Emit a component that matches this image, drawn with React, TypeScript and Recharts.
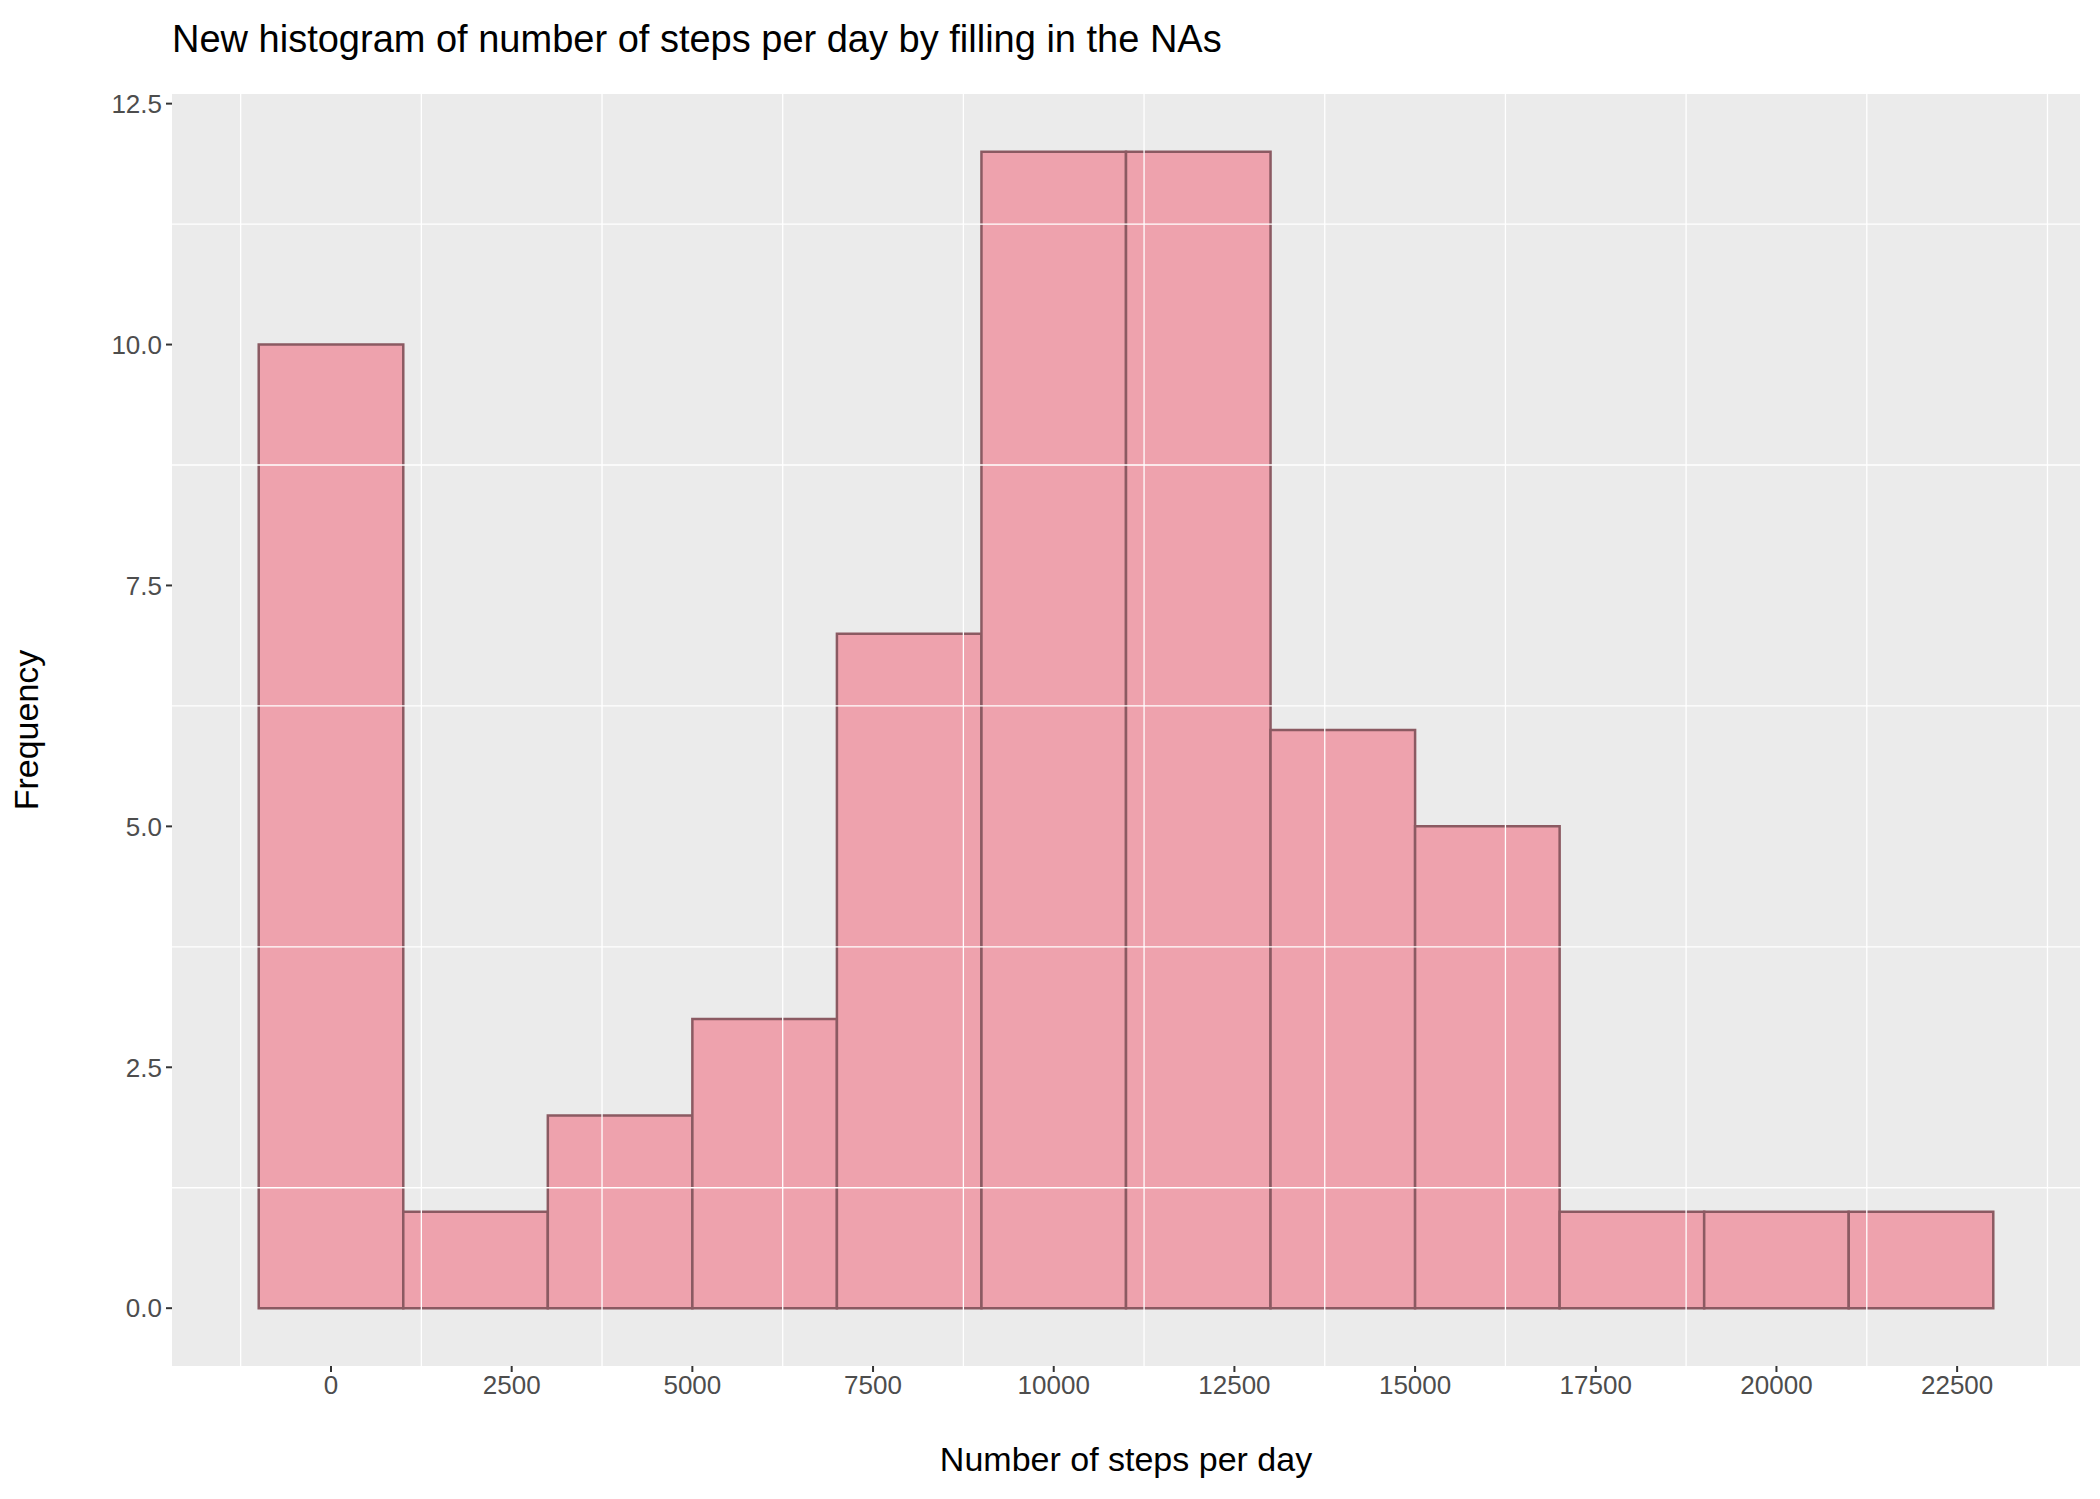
import React from "react";
import { ComposedChart, XAxis, YAxis, CartesianGrid, ReferenceArea, ReferenceLine, Label } from "recharts";

const binStarts = [-1000, 1000, 3000, 5000, 7000, 9000, 11000, 13000, 15000, 17000, 19000, 21000];
const binWidth = 2000;
const counts = [10, 1, 2, 3, 7, 12, 12, 6, 5, 1, 1, 1];
const xTicks = [0, 2500, 5000, 7500, 10000, 12500, 15000, 17500, 20000, 22500];
const xMinor = [-1250, 1250, 3750, 6250, 8750, 11250, 13750, 16250, 18750, 21250, 23750];
const yTicks = [0, 2.5, 5, 7.5, 10, 12.5];
const yMinor = [1.25, 3.75, 6.25, 8.75, 11.25];

const FONT = "'Liberation Sans', Arial, sans-serif";
const tickStyle = { fill: "#4D4D4D", fontSize: 26, fontFamily: FONT };

export default function App() {
  return (
    <div style={{ position: "absolute", left: 0, top: 0, width: 2100, height: 1499, background: "#fff" }}>
      <div style={{ position: "absolute", left: 172, top: 18, fontFamily: FONT, fontSize: 38, color: "#000", whiteSpace: "nowrap" }}>
        New histogram of number of steps per day by filling in the NAs
      </div>
      <ComposedChart width={2100} height={1499} data={[{ x: 0, y: 0 }]} margin={{ top: 94, right: 20, left: 0, bottom: 0 }}>
        <rect x={172} y={94} width={1908} height={1272} fill="#EBEBEB" />
        {xMinor.map((v) => (
          <ReferenceLine key={"xm" + v} x={v} stroke="#fff" strokeWidth={1.3} ifOverflow="hidden" />
        ))}
        {yMinor.map((v) => (
          <ReferenceLine key={"ym" + v} y={v} stroke="#fff" strokeWidth={1.3} ifOverflow="hidden" />
        ))}
        <CartesianGrid stroke="#fff" strokeWidth={2.7} fill="none" />
        <XAxis
          type="number"
          dataKey="x"
          domain={[-2200, 24200]}
          ticks={xTicks}
          allowDataOverflow
          height={133}
          axisLine={false}
          tickLine={{ stroke: "#333", strokeWidth: 2 }}
          tickSize={6}
          tick={tickStyle}
          tickMargin={4}
        >
          <Label value="Number of steps per day" position="insideBottom" offset={28} style={{ fill: "#000", fontSize: 34, fontFamily: FONT }} />
        </XAxis>
        <YAxis
          type="number"
          domain={[-0.6, 12.6]}
          ticks={yTicks}
          allowDataOverflow
          width={172}
          axisLine={false}
          tickLine={{ stroke: "#333", strokeWidth: 2 }}
          tickSize={6}
          tick={tickStyle}
          tickMargin={4}
          tickFormatter={(v: number) => v.toFixed(1)}
        >
          <Label value="Frequency" angle={-90} position="insideLeft" offset={26} style={{ fill: "#000", fontSize: 34, fontFamily: FONT, textAnchor: "middle" }} />
        </YAxis>
        {binStarts.map((s, i) => (
          <ReferenceArea
            key={"b" + i}
            x1={s}
            x2={s + binWidth}
            y1={0}
            y2={counts[i]}
            fill="#EEA2AD"
            fillOpacity={1}
            stroke="#8B5A62"
            strokeWidth={2.5}
            strokeOpacity={1}
          />
        ))}
      </ComposedChart>
    </div>
  );
}
